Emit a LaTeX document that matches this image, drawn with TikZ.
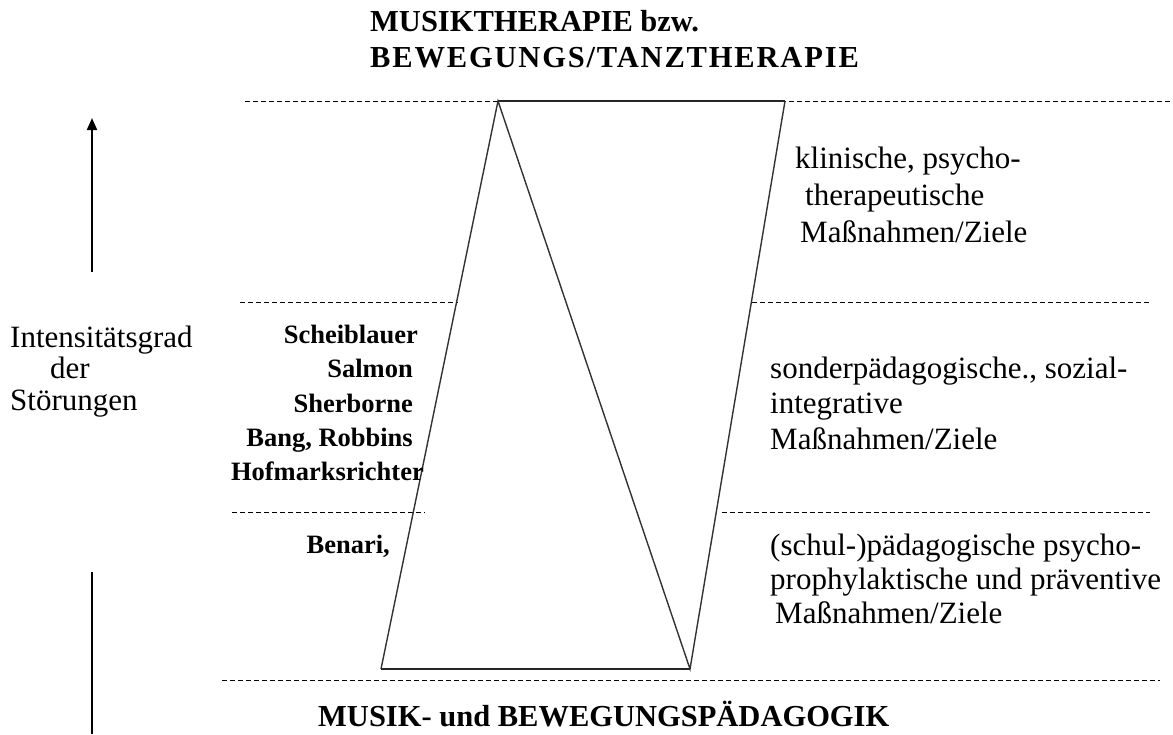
\documentclass[tikz,border=0pt]{standalone}
\usepackage{fontspec}
\setmainfont{Liberation Serif}
\usetikzlibrary{arrows.meta}
\begin{document}
\begin{tikzpicture}[x=1pt,y=-1pt,
  guide/.style={draw=black, line width=0.9pt, dash pattern=on 5pt off 3pt},
  edge/.style={draw=black!80, line width=1.4pt, line join=miter},
  baseline/.style={draw=black!85, line width=2.2pt},
  txt/.style={inner sep=0pt, anchor=west, font=\fontsize{31}{36}\selectfont, text height=21pt, text depth=6pt},
  author/.style={inner sep=0pt, anchor=east, font=\bfseries\fontsize{26.5}{31}\selectfont, text height=18pt, text depth=5pt},
  head/.style={inner sep=0pt, anchor=west, font=\bfseries\fontsize{30.5}{36}\selectfont, text height=21pt, text depth=6pt},
]
\fill[white] (0,0) rectangle (1173,734);
\useasboundingbox (0,0) rectangle (1173,734);

% headings
\node[head] (t1) at (370,24) {MUSIKTHERAPIE bzw.};
\node[head, font=\bfseries\fontsize{30.5}{36}\selectfont\addfontfeature{LetterSpace=6}] (t2) at (370,60) {BEWEGUNGS/TANZTHERAPIE};
\node[head] (b1) at (318,719) {MUSIK- und BEWEGUNGSPÄDAGOGIK};

% level separators
\coordinate (g1a) at (245,101);  \coordinate (g1b) at (1173,101);
\coordinate (g2a) at (240,302);  \coordinate (g2b) at (458,302);
\coordinate (g2c) at (752,302);  \coordinate (g2d) at (1150,302);
\coordinate (g3a) at (232,512);  \coordinate (g3b) at (425,512);
\coordinate (g3c) at (722,512);  \coordinate (g3d) at (1150,512);
\coordinate (g4a) at (222,680);  \coordinate (g4b) at (1160,680);
\draw[guide] (g1a) -- (g1b);
\draw[guide] (g2a) -- (g2b);
\draw[guide] (g2c) -- (g2d);
\draw[guide] (g3a) -- (g3b);
\draw[guide] (g3c) -- (g3d);
\draw[guide] (g4a) -- (g4b);

% wedge figure
\coordinate (apex) at (498,101);
\coordinate (tr)   at (785,101);
\coordinate (bl)   at (381,669);
\coordinate (br)   at (690,669);
\draw[edge] (bl) -- (apex) -- (br) -- (tr);
\draw[baseline] (apex) -- (tr);
\draw[baseline] (bl) -- (br);

% intensity axis
\coordinate (ax1) at (92,272);
\coordinate (ax2) at (92,118);
\coordinate (ax3) at (92,572);
\coordinate (ax4) at (92,734);
\draw[line width=2pt, -{Triangle[length=12pt,width=10pt]}] (ax1) -- (ax2);
\draw[line width=2pt] (ax3) -- (ax4);
\node[txt] (i1) at (10,340) {Intensitätsgrad};
\node[txt] (i2) at (50,371) {der};
\node[txt] (i3) at (10,403) {Störungen};

% authors
\node[author] (n1) at (418,337) {Scheiblauer};
\node[author] (n2) at (413,371) {Salmon};
\node[author] (n3) at (413,406) {Sherborne};
\node[author] (n4) at (413,440) {Bang, Robbins};
\node[author] (n5) at (424,474) {Hofmarksrichter};
\node[author] (n6) at (390,547) {Benari,};

% goals
\node[txt] (k1) at (795,161) {klinische, psycho-};
\node[txt] (k2) at (805,198) {therapeutische};
\node[txt] (k3) at (800,235) {Maßnahmen/Ziele};
\node[txt] (s1) at (770,371) {sonderpädagogische., sozial-};
\node[txt] (s2) at (770,406) {integrative};
\node[txt] (s3) at (770,442) {Maßnahmen/Ziele};
\node[txt] (p1) at (770,548) {(schul-)pädagogische psycho-};
\node[txt] (p2) at (770,582) {prophylaktische und präventive};
\node[txt] (p3) at (775,616) {Maßnahmen/Ziele};
\end{tikzpicture}
\end{document}
